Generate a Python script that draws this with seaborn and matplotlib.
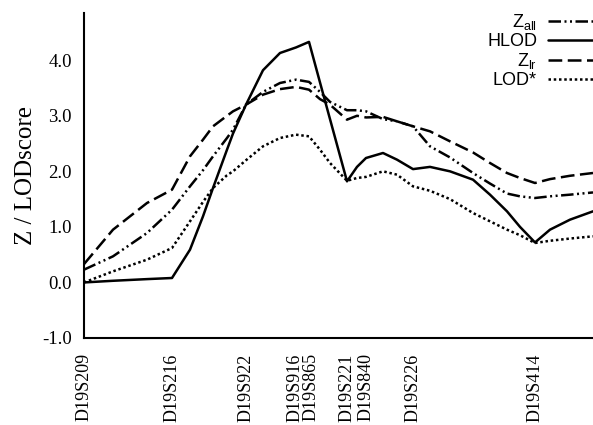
import matplotlib
matplotlib.use("Agg")
import matplotlib.pyplot as plt
import matplotlib.transforms as mtransforms
import seaborn as sns
import numpy as np

# marker map positions (relative units) and names
marker_pos = [0, 88, 162, 212, 225, 263, 282, 329, 451]
marker_names = ["D19S209", "D19S216", "D19S922", "D19S916", "D19S865",
                "D19S221", "D19S840", "D19S226", "D19S414"]

# sampling positions along the map
pos = [0, 29, 63, 88, 106, 119, 129, 143, 149, 162, 179, 196, 212, 225, 236, 246,
       263, 273, 282, 299, 313, 329, 346, 366, 389, 406, 423, 436, 451, 466, 486, 509]

z_all = [0.23, 0.47, 0.89, 1.31, 1.73, 2.02, 2.27, 2.60, 2.75, 3.20, 3.43, 3.59, 3.65, 3.61, 3.43, 3.25,
         3.10, 3.10, 3.08, 2.94, 2.90, 2.81, 2.45, 2.25, 1.97, 1.78, 1.60, 1.55, 1.52, 1.55, 1.58, 1.62]
hlod = [0.00, 0.03, 0.06, 0.08, 0.59, 1.19, 1.70, 2.39, 2.68, 3.20, 3.82, 4.13, 4.23, 4.33, 3.60, 2.94,
        1.82, 2.08, 2.24, 2.33, 2.21, 2.04, 2.08, 2.00, 1.85, 1.58, 1.28, 1.00, 0.72, 0.95, 1.13, 1.28]
z_lr = [0.33, 0.95, 1.43, 1.67, 2.27, 2.57, 2.81, 3.00, 3.08, 3.20, 3.38, 3.48, 3.52, 3.47, 3.30, 3.20,
        2.93, 3.00, 2.97, 2.98, 2.90, 2.81, 2.72, 2.54, 2.34, 2.15, 1.97, 1.88, 1.79, 1.86, 1.92, 1.97]
lod_star = [0.00, 0.20, 0.41, 0.62, 1.10, 1.45, 1.70, 1.93, 2.00, 2.20, 2.45, 2.60, 2.66, 2.63, 2.39, 2.15,
            1.83, 1.88, 1.90, 2.00, 1.94, 1.73, 1.65, 1.50, 1.25, 1.10, 0.95, 0.85, 0.71, 0.75, 0.79, 0.83]

series_labels = [r"Z$_{\mathrm{all}}$", "HLOD", r"Z$_{\mathrm{lr}}$", "LOD*"]
y_ticks = [-1.0, 0.0, 1.0, 2.0, 3.0, 4.0]

sns.set_theme(style="white")
plt.rcParams["font.family"] = ["Liberation Serif", "DejaVu Serif"]
plt.rcParams["axes.unicode_minus"] = False
plt.rcParams["mathtext.fontset"] = "custom"
plt.rcParams["mathtext.rm"] = "Liberation Sans"
plt.rcParams["mathtext.it"] = "Liberation Sans:italic"
plt.rcParams["mathtext.bf"] = "Liberation Sans:bold"

fig = plt.figure(figsize=(5.93, 4.25), dpi=100)
ax = fig.add_axes([84 / 593, 87 / 425, 509 / 593, 325 / 425])

styles = [(0, (5, 1.4, 0.8, 1.4, 0.8, 1.4)), "-", (0, (5.5, 2.2)), (0, (1, 1.1))]
for vals, lab, ls in zip([z_all, hlod, z_lr, lod_star], series_labels, styles):
    sns.lineplot(x=pos, y=vals, ax=ax, color="black", lw=1.8, linestyle=ls,
                 label=lab, legend=False)

ax.set_xlim(0, 509)
ax.set_ylim(-1, 4.85)
ax.set_xticks(marker_pos)
ax.set_xticklabels(marker_names, rotation=90, fontsize=13)
ax.set_yticks(y_ticks)
ax.set_yticklabels([f"{v:.1f}" for v in y_ticks], fontsize=13.5)
ax.tick_params(axis="both", direction="inout", length=10, width=1.3,
               color="black", labelcolor="black")
ax.tick_params(axis="y", pad=3.6)
ax.tick_params(axis="x", pad=6)
ax.set_ylabel("Z / LODscore", fontsize=18, color="black", labelpad=4)

# the two closely spaced marker labels sit slightly right of their ticks
for lbl in ax.get_xticklabels():
    if lbl.get_text() == "D19S865":
        lbl.set_transform(lbl.get_transform() +
                          mtransforms.ScaledTranslation(2.5 / 100, 0, fig.dpi_scale_trans))
    elif lbl.get_text() == "D19S916":
        lbl.set_transform(lbl.get_transform() +
                          mtransforms.ScaledTranslation(-0.5 / 100, 0, fig.dpi_scale_trans))

for s in ["top", "right"]:
    ax.spines[s].set_visible(False)
for s in ["left", "bottom"]:
    ax.spines[s].set_color("black")
    ax.spines[s].set_linewidth(1.5)

handles, labels = ax.get_legend_handles_labels()
leg = ax.legend(handles, labels, loc="upper right", bbox_to_anchor=(1.0, 0.971),
                bbox_transform=fig.transFigure, frameon=False, markerfirst=False,
                borderpad=0, borderaxespad=0, handlelength=2.5, handletextpad=0.6,
                labelspacing=0.05,
                prop={"family": "Liberation Sans", "size": 13})
for t in leg.get_texts():
    t.set_color("black")

fig.savefig("out.png", dpi=100, facecolor="white")
